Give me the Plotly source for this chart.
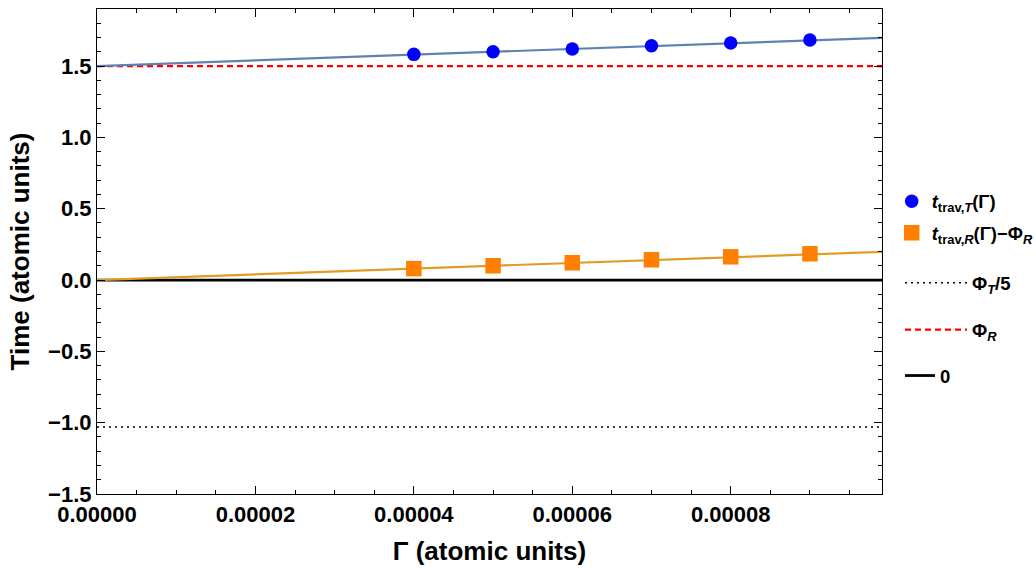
import plotly.graph_objects as go

# ---- data ----
gamma_pts = [0.00004, 0.00005, 0.00006, 0.00007, 0.00008, 0.00009]
t_trav_T = [1.582, 1.600, 1.620, 1.642, 1.662, 1.682]
t_trav_R_minus_phiR = [0.080, 0.100, 0.121, 0.142, 0.163, 0.184]
fit_gamma = [0.0, 0.0000991]
fit_T = [1.500, 1.698]
fit_R = [0.000, 0.198]
phi_T_over_5 = -1.03
phi_R = 1.5
zero_level = 0.0
x_range = [0.0, 0.0000991]
y_range = [-1.5, 1.9]
x_ticks = [0.0, 0.00002, 0.00004, 0.00006, 0.00008]
y_ticks = [-1.5, -1.0, -0.5, 0.0, 0.5, 1.0, 1.5]

W, H = 1036, 573
FONT = "Liberation Sans, Arial, sans-serif"

fig = go.Figure()

# horizontal reference lines
fig.add_trace(go.Scatter(x=x_range, y=[phi_T_over_5] * 2, mode="lines",
                         line=dict(color="black", width=1.5, dash="2px,4px"),
                         name="<b>Φ<sub><i>T</i></sub>/5</b>", legend="legend3"))
fig.add_trace(go.Scatter(x=x_range, y=[phi_R] * 2, mode="lines",
                         line=dict(color="#FF0000", width=2.2, dash="6px,4px"),
                         name="<b>Φ<sub><i>R</i></sub></b>", legend="legend4"))
fig.add_trace(go.Scatter(x=x_range, y=[zero_level] * 2, mode="lines",
                         line=dict(color="black", width=2.8),
                         name="<b>0</b>", legend="legend5"))

# fit lines
fig.add_trace(go.Scatter(x=fit_gamma, y=fit_T, mode="lines",
                         line=dict(color="#5E81B5", width=2.2), showlegend=False))
fig.add_trace(go.Scatter(x=fit_gamma, y=fit_R, mode="lines",
                         line=dict(color="#E19C24", width=2.2), showlegend=False))

# data points
fig.add_trace(go.Scatter(x=gamma_pts, y=t_trav_T, mode="markers",
                         marker=dict(symbol="circle", size=13.5, color="#0000FF"),
                         name="<b><i>t</i><sub>trav,<i>T</i></sub>(Γ)</b>", legend="legend"))
fig.add_trace(go.Scatter(x=gamma_pts, y=t_trav_R_minus_phiR, mode="markers",
                         marker=dict(symbol="square", size=15.5, color="#FF8000"),
                         name="<b><i>t</i><sub>trav,<i>R</i></sub>(Γ)−Φ<sub><i>R</i></sub></b>",
                         legend="legend2"))

def leg(ypx, xpx, itemwidth=30):
    return dict(xref="container", yref="container", x=xpx / W, y=1 - ypx / H,
                xanchor="left", yanchor="middle", bgcolor="rgba(0,0,0,0)",
                borderwidth=0, itemwidth=itemwidth,
                font=dict(family=FONT, size=18.5, color="black"))

axis_common = dict(showline=True, linecolor="black", linewidth=1.2, mirror="allticks",
                   ticks="inside", ticklen=8, tickwidth=1, tickcolor="black",
                   showgrid=False, zeroline=False,
                   tickfont=dict(family=FONT, size=22, color="black", weight="bold"))

fig.update_layout(
    width=W, height=H, autosize=False,
    margin=dict(l=97, r=W - 882, t=9, b=H - 494),
    paper_bgcolor="white", plot_bgcolor="white",
    font=dict(family=FONT, color="black"),
    xaxis=dict(range=x_range, tickvals=x_ticks, tickformat=".5f",
               minor=dict(dtick=0.000005, tick0=0, ticks="inside", ticklen=4,
                          tickcolor="black", tickwidth=1),
               title=dict(text="<b>Γ (atomic units)</b>",
                          font=dict(family=FONT, size=26, color="black"), standoff=16),
               **axis_common),
    yaxis=dict(range=y_range, tickvals=y_ticks, tickformat=".1f",
               minor=dict(dtick=0.1, tick0=0, ticks="inside", ticklen=4,
                          tickcolor="black", tickwidth=1),
               title=dict(text="<b>Time (atomic units)</b>",
                          font=dict(family=FONT, size=26, color="black"), standoff=10),
               **axis_common),
    legend=leg(201.7, 891.7),
    legend2=leg(233.3, 891.7),
    legend3=leg(283.3, 900, 62),
    legend4=leg(330, 900, 62),
    legend5=leg(376, 900, 30),
)

fig.write_html("out.html")
